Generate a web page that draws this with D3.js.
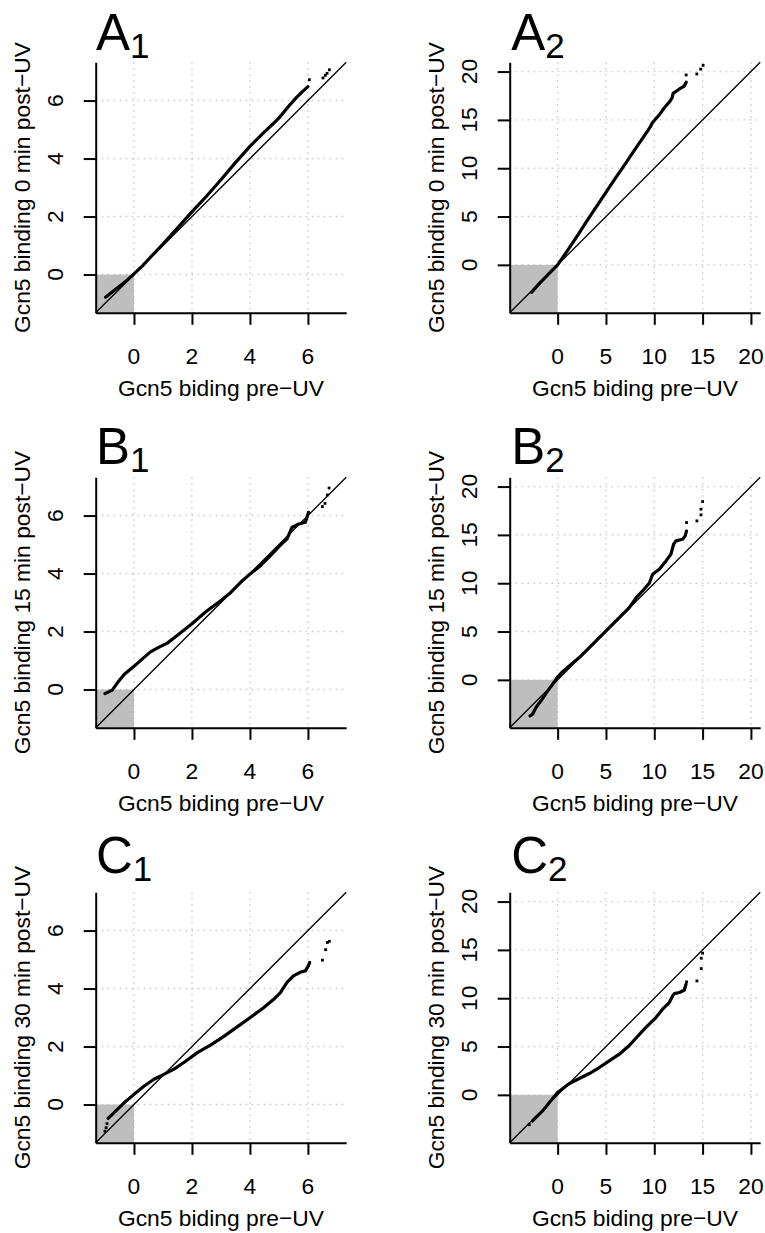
<!DOCTYPE html>
<html>
<head>
<meta charset="utf-8">
<script src="https://cdn.jsdelivr.net/npm/d3@7"></script>
<style>
  html, body { margin: 0; padding: 0; background: #ffffff; }
  svg { display: block; }
  text { font-family: "Liberation Sans", Arial, Helvetica, sans-serif; fill: #000; }
</style>
</head>
<body>
<svg id="fig" width="765" height="1233"></svg>
<script>
// ---- Data: sorted quantile pairs (pre-UV, post-UV) for each panel ----
const rowLetters = ["A", "B", "C"];
const yTitles = [
  "Gcn5 binding 0 min post\u2212UV",
  "Gcn5 binding 15 min post\u2212UV",
  "Gcn5 binding 30 min post\u2212UV"
];
const xTitle = "Gcn5 biding pre\u2212UV";

const ticksNarrow = [0, 2, 4, 6];
const ticksWide = [0, 5, 10, 15, 20];
const limNarrow = [-1, 7];
const limWide = [-4, 20];

// column 1 (narrow range), column 2 (wide range)
const qqA1 = [[-0.98,-0.78],[-0.7,-0.56],[-0.4,-0.33],[-0.2,-0.16],[0,0.02],[0.3,0.31],[0.6,0.63],[1.0,1.05],[1.5,1.6],[2.0,2.16],[2.5,2.7],[3.0,3.27],[3.5,3.86],[4.0,4.42],[4.5,4.92],[4.8,5.2],[5.0,5.4],[5.4,5.88],[5.6,6.1],[5.8,6.3],[6.0,6.48]];
const tailA1 = [[6.05,6.72],[6.52,6.78],[6.6,6.87],[6.66,6.94],[6.74,7.06]];

const qqA2 = [[-2.7,-2.85],[-2,-2.05],[-1,-1.0],[0,0],[1,1.45],[2,2.95],[3,4.5],[4,6.0],[5,7.5],[6,9.0],[7,10.45],[8,11.95],[9,13.4],[9.6,14.3],[9.8,14.7],[10.5,15.5],[11,16.2],[11.6,16.9],[11.85,17.3],[11.95,17.75],[12.6,18.2],[13.1,18.5],[13.3,18.9]];
const tailA2 = [[13.3,19.65],[14.4,19.75],[14.8,20.25],[15.05,20.65]];

const qqB1 = [[-1.0,-0.14],[-0.75,-0.02],[-0.57,0.23],[-0.34,0.52],[0,0.8],[0.34,1.1],[0.57,1.3],[0.8,1.43],[1.15,1.6],[1.5,1.87],[2.0,2.27],[2.5,2.7],[3.0,3.07],[3.33,3.34],[3.67,3.69],[4.0,3.98],[4.36,4.27],[4.7,4.61],[5.05,4.98],[5.28,5.2],[5.45,5.59],[5.68,5.71],[5.91,5.77],[6.02,6.11]];
const tailB1 = [[6.5,6.31],[6.59,6.42],[6.67,6.71],[6.73,6.95]];

const qqB2 = [[-2.86,-3.72],[-2.59,-3.55],[-2.24,-2.86],[-1.72,-2.17],[-1.03,-1.14],[-0.52,-0.45],[0,0.3],[0.52,0.85],[1.21,1.45],[2.24,2.31],[3.28,3.34],[4.31,4.38],[5.34,5.41],[6.38,6.45],[7.41,7.48],[8.1,8.45],[8.79,9.2],[9.48,10.0],[9.83,10.93],[10.52,11.45],[11.21,12.31],[11.72,13.0],[12.0,14.03],[12.24,14.38],[12.93,14.55],[13.2,14.9],[13.34,15.41]];
const tailB2 = [[13.34,16.28],[14.41,16.45],[14.83,17.07],[14.83,17.66],[15.0,18.45]];

const qqC1 = [[-0.89,-0.48],[-0.57,-0.17],[-0.34,0.06],[0,0.35],[0.34,0.63],[0.69,0.87],[1.03,1.04],[1.38,1.22],[1.72,1.45],[2.2,1.8],[2.64,2.05],[3.1,2.35],[3.56,2.68],[4.01,3.0],[4.47,3.34],[4.82,3.63],[5.05,3.86],[5.28,4.21],[5.5,4.44],[5.73,4.56],[5.91,4.61],[6.02,4.79],[6.06,4.9]];
const tailC1 = [[-1.0,-0.92],[-0.96,-0.8],[-0.93,-0.66],[6.5,4.98],[6.61,5.34],[6.67,5.59],[6.74,5.63]];

const qqC2 = [[-2.6,-2.7],[-2.24,-2.34],[-1.55,-1.66],[-0.86,-0.79],[0,0.24],[1.21,1.17],[2.24,1.69],[3.28,2.21],[4.31,2.83],[5.34,3.52],[6.38,4.21],[7.3,5.0],[8.1,5.86],[8.79,6.62],[9.48,7.31],[10.17,8.0],[10.86,8.86],[11.55,9.55],[11.9,10.24],[12.07,10.48],[12.59,10.59],[13.1,10.83],[13.28,11.45]];
const tailC2 = [[-2.93,-3.1],[13.34,11.69],[14.41,11.79],[14.86,13.07],[14.86,14.14],[15.0,14.66]];

// ---- Layout ----
const plotSize = 250.5;
const colLeft = [95.7, 509.7];
const rowTop = [62.3, 477.3, 892.3];
const letterBaseline = [50, 464, 873];
const fontSize = 22.8;

const panels = [
  { row: 0, col: 0, sub: "1", qq: qqA1, tail: tailA1 },
  { row: 0, col: 1, sub: "2", qq: qqA2, tail: tailA2 },
  { row: 1, col: 0, sub: "1", qq: qqB1, tail: tailB1 },
  { row: 1, col: 1, sub: "2", qq: qqB2, tail: tailB2 },
  { row: 2, col: 0, sub: "1", qq: qqC1, tail: tailC1 },
  { row: 2, col: 1, sub: "2", qq: qqC2, tail: tailC2 }
];

const svg = d3.select("#fig");
svg.append("rect").attr("width", 765).attr("height", 1233).attr("fill", "#ffffff");

// R-style 4% axis extension
function extend(lim) {
  const d = (lim[1] - lim[0]) * 0.04;
  return [lim[0] - d, lim[1] + d];
}

panels.forEach(p => {
  const ticks = p.col === 0 ? ticksNarrow : ticksWide;
  const dom = extend(p.col === 0 ? limNarrow : limWide);
  const left = colLeft[p.col], top = rowTop[p.row];

  const x = d3.scaleLinear().domain(dom).range([0, plotSize]);
  const y = d3.scaleLinear().domain(dom).range([plotSize, 0]);

  const g = svg.append("g").attr("transform", `translate(${left},${top})`);

  // dotted grid
  const grid = g.append("g")
    .attr("stroke", "#c8c8c8").attr("stroke-width", 1.4)
    .attr("stroke-dasharray", "1.5,4.5");
  grid.selectAll("line.v").data(ticks).join("line").attr("class", "v")
    .attr("x1", d => x(d)).attr("x2", d => x(d)).attr("y1", 0).attr("y2", plotSize);
  grid.selectAll("line.h").data(ticks).join("line").attr("class", "h")
    .attr("y1", d => y(d)).attr("y2", d => y(d)).attr("x1", 0).attr("x2", plotSize);

  // shaded negative-negative quadrant
  g.append("rect")
    .attr("x", x(dom[0])).attr("y", y(0))
    .attr("width", x(0) - x(dom[0])).attr("height", y(dom[0]) - y(0))
    .attr("fill", "#bebebe");

  // identity line
  g.append("line")
    .attr("x1", x(dom[0])).attr("y1", y(dom[0]))
    .attr("x2", x(dom[1])).attr("y2", y(dom[1]))
    .attr("stroke", "#000").attr("stroke-width", 1.3);

  // dense quantile run
  g.append("path")
    .datum(p.qq)
    .attr("d", d3.line().x(d => x(d[0])).y(d => y(d[1])))
    .attr("fill", "none").attr("stroke", "#000")
    .attr("stroke-width", 3.2).attr("stroke-linejoin", "round").attr("stroke-linecap", "round");

  // sparse extreme quantiles
  g.selectAll("rect.pt").data(p.tail).join("rect").attr("class", "pt")
    .attr("x", d => x(d[0]) - 1.4).attr("y", d => y(d[1]) - 1.4)
    .attr("width", 2.8).attr("height", 2.8).attr("fill", "#000");

  // axes
  const xAxis = g.append("g").attr("transform", `translate(0,${plotSize})`)
    .call(d3.axisBottom(x).tickValues(ticks).tickSizeInner(12).tickSizeOuter(0).tickFormat(""));
  const yAxis = g.append("g")
    .call(d3.axisLeft(y).tickValues(ticks).tickSizeInner(12).tickSizeOuter(0).tickFormat(""));
  [xAxis, yAxis].forEach(a => {
    a.selectAll("path,line").attr("stroke", "#000").attr("stroke-width", 2);
    a.selectAll("text").remove();
  });

  // tick labels
  g.selectAll("text.xt").data(ticks).join("text").attr("class", "xt")
    .attr("x", d => x(d)).attr("y", plotSize + 51)
    .attr("text-anchor", "middle").attr("font-size", fontSize)
    .text(d => d);
  g.selectAll("text.yt").data(ticks).join("text").attr("class", "yt")
    .attr("transform", d => `translate(-32.7,${y(d)}) rotate(-90)`)
    .attr("text-anchor", "middle").attr("font-size", fontSize)
    .text(d => d);

  // axis titles
  g.append("text")
    .attr("x", plotSize / 2).attr("y", plotSize + 83.5)
    .attr("text-anchor", "middle").attr("font-size", fontSize)
    .text(xTitle);
  g.append("text")
    .attr("transform", `translate(-66,${plotSize / 2}) rotate(-90)`)
    .attr("text-anchor", "middle").attr("font-size", fontSize)
    .text(yTitles[p.row]);

  // panel letter with subscript
  const lab = svg.append("text")
    .attr("x", left + (p.col === 0 ? 0.3 : 1.5)).attr("y", letterBaseline[p.row])
    .attr("font-size", 51);
  lab.append("tspan").text(rowLetters[p.row]);
  lab.append("tspan").attr("font-size", 35).attr("dy", 8.3).text(p.sub);
});
</script>
</body>
</html>
